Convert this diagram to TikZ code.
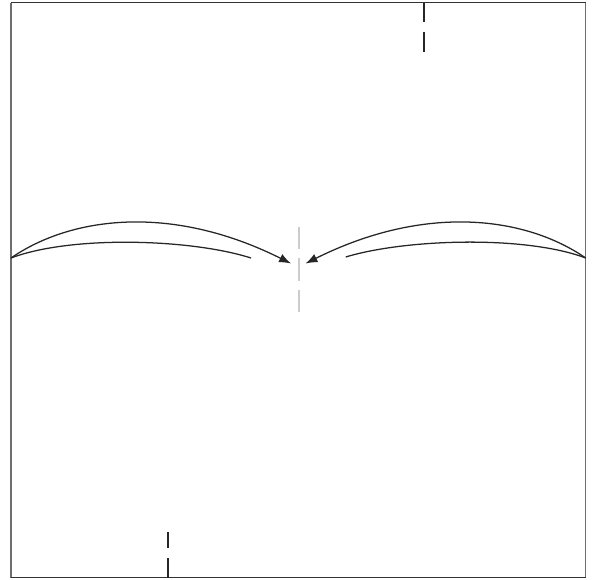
\documentclass[tikz,border=0pt]{standalone}
\usepackage{xcolor}
\usetikzlibrary{arrows.meta}
\definecolor{FrameDark}{HTML}{333333}
\definecolor{FrameGray}{HTML}{6E6E6E}
\definecolor{AxisGray}{HTML}{CCCCCC}
\tikzset{
  flowline/.style={black!85,line width=0.9pt},
  flowarrow/.style={flowline,-{Latex[length=8.5pt,width=6.5pt]}},
  tickdash/.style={black!85,line width=1.5pt,dash pattern=on 14pt off 7pt},
  centredash/.style={AxisGray,line width=1.8pt,dash pattern=on 16pt off 6.5pt}
}
\begin{document}
\begin{tikzpicture}[x=0.025cm,y=-0.025cm]
\path[use as bounding box] (0,0) rectangle (595,580);
\draw[FrameGray,line width=0.9pt] (11,2.5) -- (11,577.7);
\draw[FrameGray,line width=0.9pt] (585.7,2.5) -- (585.7,577.7);
\draw[FrameDark,line width=0.9pt] (11,2.5) -- (585.7,2.5);
\draw[FrameDark,line width=0.9pt] (11,577.7) -- (585.7,577.7);
\coordinate (west) at (11,258);
\coordinate (east) at (585.7,258);
\coordinate (wtip) at (291,263.5);
\coordinate (etip) at (305.5,263.5);
\coordinate (wend) at (251,258);
\coordinate (eend) at (345.7,257);
\coordinate (topa) at (424,2.5);
\coordinate (topb) at (424,52);
\coordinate (bota) at (168,577.7);
\coordinate (botb) at (168,531.5);
\coordinate (mida) at (299,226.5);
\coordinate (midb) at (299,311.5);
\draw[tickdash] (topa) -- (topb);
\draw[tickdash] (bota) -- (botb);
\draw[centredash] (mida) -- (midb);
\draw[flowarrow] (west) .. controls (71,216.6) and (171,203.5) .. (wtip);
\draw[flowline] (west) .. controls (71,235.2) and (191,238.8) .. (wend);
\draw[flowarrow] (east) .. controls (525.7,216.6) and (425.7,203.5) .. (etip);
\draw[flowline] (east) .. controls (525.7,235.2) and (405.7,238.8) .. (eend);
\end{tikzpicture}
\end{document}
